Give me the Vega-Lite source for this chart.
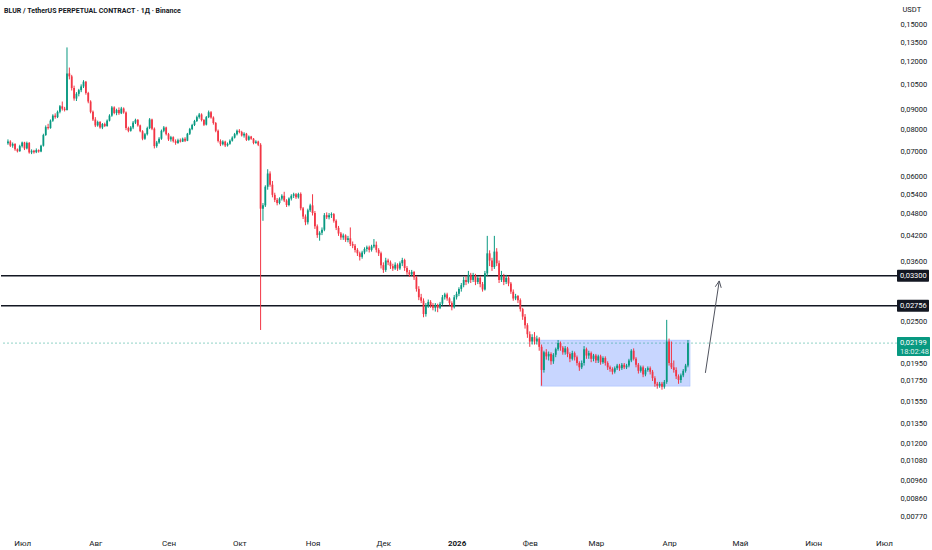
{
  "$schema": "https://vega.github.io/schema/vega-lite/v6.json",
  "width": 932,
  "height": 550,
  "autosize": {"type": "fit", "contains": "padding"},
  "padding": 0,
  "background": "white",
  "title": {
    "text": "BLUR / TetherUS PERPETUAL CONTRACT · 1Д · Binance",
    "anchor": "start",
    "frame": "group",
    "offset": -19,
    "baseline": "bottom",
    "dx": 3,
    "dy": 2,
    "font": "Roboto",
    "fontSize": 7,
    "fontWeight": "bold",
    "color": "#131722"
  },
  "config": {
    "view": {"stroke": null},
    "axis": {
      "domain": false,
      "ticks": false,
      "grid": false,
      "labelFont": "Roboto",
      "labelFontSize": 8,
      "labelColor": "#131722",
      "titleFont": "Roboto"
    }
  },
  "datasets": {
    "candles": [
      {"d":"2025-06-25","o":0.0735,"h":0.0752,"l":0.0728,"c":0.0742},
      {"d":"2025-06-26","o":0.0742,"h":0.0748,"l":0.0718,"c":0.0724},
      {"d":"2025-06-27","o":0.0724,"h":0.0738,"l":0.0715,"c":0.0731},
      {"d":"2025-06-28","o":0.0731,"h":0.0735,"l":0.0702,"c":0.0708},
      {"d":"2025-06-29","o":0.0708,"h":0.0712,"l":0.0695,"c":0.0700},
      {"d":"2025-06-30","o":0.0700,"h":0.0728,"l":0.0698,"c":0.0722},
      {"d":"2025-07-01","o":0.0722,"h":0.0742,"l":0.0716,"c":0.0738},
      {"d":"2025-07-02","o":0.0738,"h":0.0741,"l":0.0705,"c":0.0712},
      {"d":"2025-07-03","o":0.0712,"h":0.0742,"l":0.0708,"c":0.0736},
      {"d":"2025-07-04","o":0.0736,"h":0.0740,"l":0.0690,"c":0.0695},
      {"d":"2025-07-05","o":0.0695,"h":0.0708,"l":0.0688,"c":0.0702},
      {"d":"2025-07-06","o":0.0702,"h":0.0706,"l":0.0690,"c":0.0696},
      {"d":"2025-07-07","o":0.0696,"h":0.0712,"l":0.0692,"c":0.0705},
      {"d":"2025-07-08","o":0.0705,"h":0.0708,"l":0.0694,"c":0.0699},
      {"d":"2025-07-09","o":0.0699,"h":0.0728,"l":0.0696,"c":0.0724},
      {"d":"2025-07-10","o":0.0724,"h":0.0778,"l":0.0720,"c":0.0772},
      {"d":"2025-07-11","o":0.0772,"h":0.0818,"l":0.0768,"c":0.0810},
      {"d":"2025-07-12","o":0.0810,"h":0.0826,"l":0.0798,"c":0.0805},
      {"d":"2025-07-13","o":0.0805,"h":0.0848,"l":0.0802,"c":0.0842},
      {"d":"2025-07-14","o":0.0842,"h":0.0875,"l":0.0836,"c":0.0868},
      {"d":"2025-07-15","o":0.0868,"h":0.0880,"l":0.0852,"c":0.0860},
      {"d":"2025-07-16","o":0.0860,"h":0.0895,"l":0.0855,"c":0.0888},
      {"d":"2025-07-17","o":0.0888,"h":0.0925,"l":0.0880,"c":0.0918},
      {"d":"2025-07-18","o":0.0918,"h":0.0945,"l":0.0895,"c":0.0905},
      {"d":"2025-07-19","o":0.0905,"h":0.0915,"l":0.0890,"c":0.0898},
      {"d":"2025-07-20","o":0.0898,"h":0.1310,"l":0.0895,"c":0.1120},
      {"d":"2025-07-21","o":0.1120,"h":0.1160,"l":0.1080,"c":0.1100},
      {"d":"2025-07-22","o":0.1100,"h":0.1110,"l":0.1010,"c":0.1025},
      {"d":"2025-07-23","o":0.1025,"h":0.1040,"l":0.0950,"c":0.0962},
      {"d":"2025-07-24","o":0.0962,"h":0.1000,"l":0.0948,"c":0.0990},
      {"d":"2025-07-25","o":0.0990,"h":0.1020,"l":0.0975,"c":0.1012},
      {"d":"2025-07-26","o":0.1012,"h":0.1048,"l":0.1000,"c":0.1035},
      {"d":"2025-07-27","o":0.1035,"h":0.1075,"l":0.1025,"c":0.1065},
      {"d":"2025-07-28","o":0.1065,"h":0.1070,"l":0.0985,"c":0.0995},
      {"d":"2025-07-29","o":0.0995,"h":0.1002,"l":0.0935,"c":0.0945},
      {"d":"2025-07-30","o":0.0945,"h":0.0952,"l":0.0880,"c":0.0888},
      {"d":"2025-07-31","o":0.0888,"h":0.0895,"l":0.0840,"c":0.0848},
      {"d":"2025-08-01","o":0.0848,"h":0.0860,"l":0.0810,"c":0.0818},
      {"d":"2025-08-02","o":0.0818,"h":0.0842,"l":0.0812,"c":0.0835},
      {"d":"2025-08-03","o":0.0835,"h":0.0840,"l":0.0802,"c":0.0808},
      {"d":"2025-08-04","o":0.0808,"h":0.0830,"l":0.0800,"c":0.0825},
      {"d":"2025-08-05","o":0.0825,"h":0.0832,"l":0.0810,"c":0.0815},
      {"d":"2025-08-06","o":0.0815,"h":0.0848,"l":0.0812,"c":0.0842},
      {"d":"2025-08-07","o":0.0842,"h":0.0875,"l":0.0838,"c":0.0868},
      {"d":"2025-08-08","o":0.0868,"h":0.0920,"l":0.0862,"c":0.0912},
      {"d":"2025-08-09","o":0.0912,"h":0.0918,"l":0.0875,"c":0.0882},
      {"d":"2025-08-10","o":0.0882,"h":0.0905,"l":0.0870,"c":0.0898},
      {"d":"2025-08-11","o":0.0898,"h":0.0912,"l":0.0872,"c":0.0880},
      {"d":"2025-08-12","o":0.0880,"h":0.0915,"l":0.0876,"c":0.0906},
      {"d":"2025-08-13","o":0.0906,"h":0.0912,"l":0.0878,"c":0.0885},
      {"d":"2025-08-14","o":0.0885,"h":0.0890,"l":0.0795,"c":0.0805},
      {"d":"2025-08-15","o":0.0805,"h":0.0812,"l":0.0785,"c":0.0792},
      {"d":"2025-08-16","o":0.0792,"h":0.0815,"l":0.0788,"c":0.0808},
      {"d":"2025-08-17","o":0.0808,"h":0.0840,"l":0.0800,"c":0.0832},
      {"d":"2025-08-18","o":0.0832,"h":0.0852,"l":0.0825,"c":0.0846},
      {"d":"2025-08-19","o":0.0846,"h":0.0850,"l":0.0812,"c":0.0818},
      {"d":"2025-08-20","o":0.0818,"h":0.0822,"l":0.0785,"c":0.0790},
      {"d":"2025-08-21","o":0.0790,"h":0.0795,"l":0.0748,"c":0.0755},
      {"d":"2025-08-22","o":0.0755,"h":0.0782,"l":0.0750,"c":0.0776},
      {"d":"2025-08-23","o":0.0776,"h":0.0812,"l":0.0770,"c":0.0805},
      {"d":"2025-08-24","o":0.0805,"h":0.0855,"l":0.0800,"c":0.0848},
      {"d":"2025-08-25","o":0.0848,"h":0.0852,"l":0.0795,"c":0.0802},
      {"d":"2025-08-26","o":0.0802,"h":0.0808,"l":0.0712,"c":0.0722},
      {"d":"2025-08-27","o":0.0722,"h":0.0745,"l":0.0715,"c":0.0738},
      {"d":"2025-08-28","o":0.0738,"h":0.0762,"l":0.0732,"c":0.0755},
      {"d":"2025-08-29","o":0.0755,"h":0.0798,"l":0.0750,"c":0.0792},
      {"d":"2025-08-30","o":0.0792,"h":0.0815,"l":0.0785,"c":0.0808},
      {"d":"2025-08-31","o":0.0808,"h":0.0812,"l":0.0770,"c":0.0776},
      {"d":"2025-09-01","o":0.0776,"h":0.0782,"l":0.0745,"c":0.0752},
      {"d":"2025-09-02","o":0.0752,"h":0.0768,"l":0.0742,"c":0.0762},
      {"d":"2025-09-03","o":0.0762,"h":0.0766,"l":0.0738,"c":0.0744},
      {"d":"2025-09-04","o":0.0744,"h":0.0752,"l":0.0728,"c":0.0736},
      {"d":"2025-09-05","o":0.0736,"h":0.0755,"l":0.0732,"c":0.0748},
      {"d":"2025-09-06","o":0.0748,"h":0.0756,"l":0.0738,"c":0.0742},
      {"d":"2025-09-07","o":0.0742,"h":0.0760,"l":0.0740,"c":0.0755},
      {"d":"2025-09-08","o":0.0755,"h":0.0762,"l":0.0740,"c":0.0746},
      {"d":"2025-09-09","o":0.0746,"h":0.0782,"l":0.0744,"c":0.0778},
      {"d":"2025-09-10","o":0.0778,"h":0.0806,"l":0.0772,"c":0.0800},
      {"d":"2025-09-11","o":0.0800,"h":0.0826,"l":0.0795,"c":0.0820},
      {"d":"2025-09-12","o":0.0820,"h":0.0846,"l":0.0815,"c":0.0840},
      {"d":"2025-09-13","o":0.0840,"h":0.0868,"l":0.0835,"c":0.0860},
      {"d":"2025-09-14","o":0.0860,"h":0.0882,"l":0.0852,"c":0.0874},
      {"d":"2025-09-15","o":0.0874,"h":0.0880,"l":0.0838,"c":0.0845},
      {"d":"2025-09-16","o":0.0845,"h":0.0850,"l":0.0815,"c":0.0822},
      {"d":"2025-09-17","o":0.0822,"h":0.0866,"l":0.0818,"c":0.0860},
      {"d":"2025-09-18","o":0.0860,"h":0.0895,"l":0.0855,"c":0.0886},
      {"d":"2025-09-19","o":0.0886,"h":0.0892,"l":0.0852,"c":0.0858},
      {"d":"2025-09-20","o":0.0858,"h":0.0864,"l":0.0822,"c":0.0830},
      {"d":"2025-09-21","o":0.0830,"h":0.0835,"l":0.0785,"c":0.0792},
      {"d":"2025-09-22","o":0.0792,"h":0.0798,"l":0.0738,"c":0.0745},
      {"d":"2025-09-23","o":0.0745,"h":0.0752,"l":0.0722,"c":0.0730},
      {"d":"2025-09-24","o":0.0730,"h":0.0748,"l":0.0725,"c":0.0742},
      {"d":"2025-09-25","o":0.0742,"h":0.0746,"l":0.0718,"c":0.0725},
      {"d":"2025-09-26","o":0.0725,"h":0.0738,"l":0.0720,"c":0.0732},
      {"d":"2025-09-27","o":0.0732,"h":0.0752,"l":0.0728,"c":0.0746},
      {"d":"2025-09-28","o":0.0746,"h":0.0766,"l":0.0742,"c":0.0760},
      {"d":"2025-09-29","o":0.0760,"h":0.0782,"l":0.0756,"c":0.0776},
      {"d":"2025-09-30","o":0.0776,"h":0.0798,"l":0.0770,"c":0.0792},
      {"d":"2025-10-01","o":0.0792,"h":0.0800,"l":0.0780,"c":0.0786},
      {"d":"2025-10-02","o":0.0786,"h":0.0792,"l":0.0765,"c":0.0770},
      {"d":"2025-10-03","o":0.0770,"h":0.0785,"l":0.0760,"c":0.0778},
      {"d":"2025-10-04","o":0.0778,"h":0.0782,"l":0.0745,"c":0.0750},
      {"d":"2025-10-05","o":0.0750,"h":0.0770,"l":0.0746,"c":0.0765},
      {"d":"2025-10-06","o":0.0765,"h":0.0768,"l":0.0750,"c":0.0755},
      {"d":"2025-10-07","o":0.0755,"h":0.0758,"l":0.0730,"c":0.0736},
      {"d":"2025-10-08","o":0.0736,"h":0.0748,"l":0.0732,"c":0.0742},
      {"d":"2025-10-09","o":0.0742,"h":0.0746,"l":0.0722,"c":0.0728},
      {"d":"2025-10-10","o":0.0728,"h":0.0735,"l":0.0238,"c":0.0495},
      {"d":"2025-10-11","o":0.0495,"h":0.0512,"l":0.0460,"c":0.0505},
      {"d":"2025-10-12","o":0.0505,"h":0.0570,"l":0.0500,"c":0.0565},
      {"d":"2025-10-13","o":0.0565,"h":0.0628,"l":0.0555,"c":0.0612},
      {"d":"2025-10-14","o":0.0612,"h":0.0620,"l":0.0565,"c":0.0572},
      {"d":"2025-10-15","o":0.0572,"h":0.0585,"l":0.0530,"c":0.0538},
      {"d":"2025-10-16","o":0.0538,"h":0.0545,"l":0.0515,"c":0.0522},
      {"d":"2025-10-17","o":0.0522,"h":0.0528,"l":0.0505,"c":0.0512},
      {"d":"2025-10-18","o":0.0512,"h":0.0530,"l":0.0508,"c":0.0526},
      {"d":"2025-10-19","o":0.0526,"h":0.0540,"l":0.0520,"c":0.0535},
      {"d":"2025-10-20","o":0.0535,"h":0.0548,"l":0.0515,"c":0.0520},
      {"d":"2025-10-21","o":0.0520,"h":0.0524,"l":0.0500,"c":0.0506},
      {"d":"2025-10-22","o":0.0506,"h":0.0530,"l":0.0502,"c":0.0526},
      {"d":"2025-10-23","o":0.0526,"h":0.0540,"l":0.0520,"c":0.0535},
      {"d":"2025-10-24","o":0.0535,"h":0.0545,"l":0.0528,"c":0.0540},
      {"d":"2025-10-25","o":0.0540,"h":0.0544,"l":0.0525,"c":0.0530},
      {"d":"2025-10-26","o":0.0530,"h":0.0545,"l":0.0526,"c":0.0541},
      {"d":"2025-10-27","o":0.0541,"h":0.0546,"l":0.0490,"c":0.0496},
      {"d":"2025-10-28","o":0.0496,"h":0.0500,"l":0.0465,"c":0.0472},
      {"d":"2025-10-29","o":0.0472,"h":0.0478,"l":0.0448,"c":0.0456},
      {"d":"2025-10-30","o":0.0456,"h":0.0495,"l":0.0450,"c":0.0490},
      {"d":"2025-10-31","o":0.0490,"h":0.0510,"l":0.0485,"c":0.0505},
      {"d":"2025-11-01","o":0.0505,"h":0.0540,"l":0.0475,"c":0.0482},
      {"d":"2025-11-02","o":0.0482,"h":0.0488,"l":0.0438,"c":0.0445},
      {"d":"2025-11-03","o":0.0445,"h":0.0450,"l":0.0415,"c":0.0422},
      {"d":"2025-11-04","o":0.0422,"h":0.0432,"l":0.0408,"c":0.0428},
      {"d":"2025-11-05","o":0.0428,"h":0.0442,"l":0.0422,"c":0.0436},
      {"d":"2025-11-06","o":0.0436,"h":0.0482,"l":0.0432,"c":0.0476},
      {"d":"2025-11-07","o":0.0476,"h":0.0484,"l":0.0465,"c":0.0470},
      {"d":"2025-11-08","o":0.0470,"h":0.0482,"l":0.0464,"c":0.0476},
      {"d":"2025-11-09","o":0.0476,"h":0.0484,"l":0.0468,"c":0.0479},
      {"d":"2025-11-10","o":0.0479,"h":0.0482,"l":0.0455,"c":0.0460},
      {"d":"2025-11-11","o":0.0460,"h":0.0464,"l":0.0435,"c":0.0441},
      {"d":"2025-11-12","o":0.0441,"h":0.0446,"l":0.0420,"c":0.0426},
      {"d":"2025-11-13","o":0.0426,"h":0.0430,"l":0.0410,"c":0.0416},
      {"d":"2025-11-14","o":0.0416,"h":0.0426,"l":0.0410,"c":0.0421},
      {"d":"2025-11-15","o":0.0421,"h":0.0424,"l":0.0405,"c":0.0410},
      {"d":"2025-11-16","o":0.0410,"h":0.0420,"l":0.0404,"c":0.0414},
      {"d":"2025-11-17","o":0.0414,"h":0.0442,"l":0.0395,"c":0.0400},
      {"d":"2025-11-18","o":0.0400,"h":0.0406,"l":0.0390,"c":0.0396},
      {"d":"2025-11-19","o":0.0396,"h":0.0400,"l":0.0380,"c":0.0386},
      {"d":"2025-11-20","o":0.0386,"h":0.0390,"l":0.0372,"c":0.0378},
      {"d":"2025-11-21","o":0.0378,"h":0.0382,"l":0.0362,"c":0.0370},
      {"d":"2025-11-22","o":0.0370,"h":0.0384,"l":0.0366,"c":0.0380},
      {"d":"2025-11-23","o":0.0380,"h":0.0392,"l":0.0376,"c":0.0388},
      {"d":"2025-11-24","o":0.0388,"h":0.0396,"l":0.0382,"c":0.0392},
      {"d":"2025-11-25","o":0.0392,"h":0.0396,"l":0.0380,"c":0.0386},
      {"d":"2025-11-26","o":0.0386,"h":0.0398,"l":0.0382,"c":0.0394},
      {"d":"2025-11-27","o":0.0394,"h":0.0412,"l":0.0390,"c":0.0398},
      {"d":"2025-11-28","o":0.0398,"h":0.0406,"l":0.0380,"c":0.0386},
      {"d":"2025-11-29","o":0.0386,"h":0.0390,"l":0.0372,"c":0.0378},
      {"d":"2025-11-30","o":0.0378,"h":0.0382,"l":0.0345,"c":0.0352},
      {"d":"2025-12-01","o":0.0352,"h":0.0358,"l":0.0336,"c":0.0342},
      {"d":"2025-12-02","o":0.0342,"h":0.0368,"l":0.0338,"c":0.0362},
      {"d":"2025-12-03","o":0.0362,"h":0.0366,"l":0.0352,"c":0.0358},
      {"d":"2025-12-04","o":0.0358,"h":0.0362,"l":0.0344,"c":0.0350},
      {"d":"2025-12-05","o":0.0350,"h":0.0355,"l":0.0340,"c":0.0345},
      {"d":"2025-12-06","o":0.0345,"h":0.0358,"l":0.0342,"c":0.0353},
      {"d":"2025-12-07","o":0.0353,"h":0.0356,"l":0.0340,"c":0.0345},
      {"d":"2025-12-08","o":0.0345,"h":0.0360,"l":0.0342,"c":0.0356},
      {"d":"2025-12-09","o":0.0356,"h":0.0368,"l":0.0350,"c":0.0363},
      {"d":"2025-12-10","o":0.0363,"h":0.0366,"l":0.0340,"c":0.0346},
      {"d":"2025-12-11","o":0.0346,"h":0.0350,"l":0.0332,"c":0.0337},
      {"d":"2025-12-12","o":0.0337,"h":0.0342,"l":0.0328,"c":0.0333},
      {"d":"2025-12-13","o":0.0333,"h":0.0342,"l":0.0330,"c":0.0338},
      {"d":"2025-12-14","o":0.0338,"h":0.0340,"l":0.0322,"c":0.0327},
      {"d":"2025-12-15","o":0.0327,"h":0.0330,"l":0.0300,"c":0.0305},
      {"d":"2025-12-16","o":0.0305,"h":0.0310,"l":0.0285,"c":0.0290},
      {"d":"2025-12-17","o":0.0290,"h":0.0296,"l":0.0280,"c":0.0284},
      {"d":"2025-12-18","o":0.0284,"h":0.0288,"l":0.0257,"c":0.0262},
      {"d":"2025-12-19","o":0.0262,"h":0.0280,"l":0.0258,"c":0.0276},
      {"d":"2025-12-20","o":0.0276,"h":0.0286,"l":0.0272,"c":0.0282},
      {"d":"2025-12-21","o":0.0282,"h":0.0285,"l":0.0272,"c":0.0276},
      {"d":"2025-12-22","o":0.0276,"h":0.0280,"l":0.0268,"c":0.0272},
      {"d":"2025-12-23","o":0.0272,"h":0.0280,"l":0.0266,"c":0.0277},
      {"d":"2025-12-24","o":0.0277,"h":0.0279,"l":0.0265,"c":0.0272},
      {"d":"2025-12-25","o":0.0272,"h":0.0282,"l":0.0270,"c":0.0279},
      {"d":"2025-12-26","o":0.0279,"h":0.0294,"l":0.0276,"c":0.0290},
      {"d":"2025-12-27","o":0.0290,"h":0.0298,"l":0.0286,"c":0.0295},
      {"d":"2025-12-28","o":0.0295,"h":0.0298,"l":0.0284,"c":0.0288},
      {"d":"2025-12-29","o":0.0288,"h":0.0290,"l":0.0276,"c":0.0280},
      {"d":"2025-12-30","o":0.0280,"h":0.0283,"l":0.0268,"c":0.0273},
      {"d":"2025-12-31","o":0.0273,"h":0.0294,"l":0.0271,"c":0.0290},
      {"d":"2026-01-01","o":0.0290,"h":0.0300,"l":0.0286,"c":0.0296},
      {"d":"2026-01-02","o":0.0296,"h":0.0308,"l":0.0292,"c":0.0305},
      {"d":"2026-01-03","o":0.0305,"h":0.0316,"l":0.0300,"c":0.0312},
      {"d":"2026-01-04","o":0.0312,"h":0.0328,"l":0.0308,"c":0.0322},
      {"d":"2026-01-05","o":0.0322,"h":0.0330,"l":0.0312,"c":0.0318},
      {"d":"2026-01-06","o":0.0318,"h":0.0340,"l":0.0315,"c":0.0332},
      {"d":"2026-01-07","o":0.0332,"h":0.0336,"l":0.0316,"c":0.0322},
      {"d":"2026-01-08","o":0.0322,"h":0.0336,"l":0.0318,"c":0.0330},
      {"d":"2026-01-09","o":0.0330,"h":0.0334,"l":0.0312,"c":0.0318},
      {"d":"2026-01-10","o":0.0318,"h":0.0330,"l":0.0314,"c":0.0326},
      {"d":"2026-01-11","o":0.0326,"h":0.0330,"l":0.0308,"c":0.0314},
      {"d":"2026-01-12","o":0.0314,"h":0.0318,"l":0.0300,"c":0.0304},
      {"d":"2026-01-13","o":0.0304,"h":0.0340,"l":0.0302,"c":0.0335},
      {"d":"2026-01-14","o":0.0335,"h":0.0420,"l":0.0330,"c":0.0378},
      {"d":"2026-01-15","o":0.0378,"h":0.0385,"l":0.0350,"c":0.0362},
      {"d":"2026-01-16","o":0.0362,"h":0.0368,"l":0.0340,"c":0.0348},
      {"d":"2026-01-17","o":0.0348,"h":0.0420,"l":0.0344,"c":0.0382},
      {"d":"2026-01-18","o":0.0382,"h":0.0390,"l":0.0350,"c":0.0356},
      {"d":"2026-01-19","o":0.0356,"h":0.0362,"l":0.0316,"c":0.0322},
      {"d":"2026-01-20","o":0.0322,"h":0.0340,"l":0.0318,"c":0.0330},
      {"d":"2026-01-21","o":0.0330,"h":0.0334,"l":0.0312,"c":0.0318},
      {"d":"2026-01-22","o":0.0318,"h":0.0332,"l":0.0314,"c":0.0326},
      {"d":"2026-01-23","o":0.0326,"h":0.0330,"l":0.0310,"c":0.0315},
      {"d":"2026-01-24","o":0.0315,"h":0.0318,"l":0.0296,"c":0.0300},
      {"d":"2026-01-25","o":0.0300,"h":0.0304,"l":0.0284,"c":0.0288},
      {"d":"2026-01-26","o":0.0288,"h":0.0296,"l":0.0285,"c":0.0292},
      {"d":"2026-01-27","o":0.0292,"h":0.0294,"l":0.0280,"c":0.0285},
      {"d":"2026-01-28","o":0.0285,"h":0.0288,"l":0.0266,"c":0.0270},
      {"d":"2026-01-29","o":0.0270,"h":0.0272,"l":0.0253,"c":0.0258},
      {"d":"2026-01-30","o":0.0258,"h":0.0262,"l":0.0240,"c":0.0245},
      {"d":"2026-01-31","o":0.0245,"h":0.0248,"l":0.0227,"c":0.0232},
      {"d":"2026-02-01","o":0.0232,"h":0.0236,"l":0.0215,"c":0.0222},
      {"d":"2026-02-02","o":0.0222,"h":0.0232,"l":0.0218,"c":0.0228},
      {"d":"2026-02-03","o":0.0228,"h":0.0235,"l":0.0218,"c":0.0222},
      {"d":"2026-02-04","o":0.0222,"h":0.0230,"l":0.0218,"c":0.0226},
      {"d":"2026-02-05","o":0.0226,"h":0.0228,"l":0.0210,"c":0.0215},
      {"d":"2026-02-06","o":0.0215,"h":0.0218,"l":0.0170,"c":0.0187},
      {"d":"2026-02-07","o":0.0187,"h":0.0210,"l":0.0184,"c":0.0208},
      {"d":"2026-02-08","o":0.0208,"h":0.0212,"l":0.0199,"c":0.0203},
      {"d":"2026-02-09","o":0.0203,"h":0.0209,"l":0.0198,"c":0.0206},
      {"d":"2026-02-10","o":0.0206,"h":0.0208,"l":0.0193,"c":0.0197},
      {"d":"2026-02-11","o":0.0197,"h":0.0207,"l":0.0194,"c":0.0205},
      {"d":"2026-02-12","o":0.0205,"h":0.0214,"l":0.0202,"c":0.0212},
      {"d":"2026-02-13","o":0.0212,"h":0.0224,"l":0.0210,"c":0.0220},
      {"d":"2026-02-14","o":0.0220,"h":0.0222,"l":0.0210,"c":0.0214},
      {"d":"2026-02-15","o":0.0214,"h":0.0216,"l":0.0205,"c":0.0208},
      {"d":"2026-02-16","o":0.0208,"h":0.0216,"l":0.0205,"c":0.0213},
      {"d":"2026-02-17","o":0.0213,"h":0.0215,"l":0.0202,"c":0.0206},
      {"d":"2026-02-18","o":0.0206,"h":0.0208,"l":0.0196,"c":0.0200},
      {"d":"2026-02-19","o":0.0200,"h":0.0210,"l":0.0198,"c":0.0207},
      {"d":"2026-02-20","o":0.0207,"h":0.0209,"l":0.0198,"c":0.0202},
      {"d":"2026-02-21","o":0.0202,"h":0.0204,"l":0.0192,"c":0.0195},
      {"d":"2026-02-22","o":0.0195,"h":0.0197,"l":0.0186,"c":0.0190},
      {"d":"2026-02-23","o":0.0190,"h":0.0198,"l":0.0188,"c":0.0195},
      {"d":"2026-02-24","o":0.0195,"h":0.0216,"l":0.0192,"c":0.0212},
      {"d":"2026-02-25","o":0.0212,"h":0.0214,"l":0.0200,"c":0.0204},
      {"d":"2026-02-26","o":0.0204,"h":0.0210,"l":0.0200,"c":0.0207},
      {"d":"2026-02-27","o":0.0207,"h":0.0209,"l":0.0196,"c":0.0200},
      {"d":"2026-02-28","o":0.0200,"h":0.0206,"l":0.0197,"c":0.0204},
      {"d":"2026-03-01","o":0.0204,"h":0.0206,"l":0.0195,"c":0.0198},
      {"d":"2026-03-02","o":0.0198,"h":0.0205,"l":0.0195,"c":0.0203},
      {"d":"2026-03-03","o":0.0203,"h":0.0205,"l":0.0193,"c":0.0196},
      {"d":"2026-03-04","o":0.0196,"h":0.0203,"l":0.0194,"c":0.0201},
      {"d":"2026-03-05","o":0.0201,"h":0.0203,"l":0.0192,"c":0.0195},
      {"d":"2026-03-06","o":0.0195,"h":0.0197,"l":0.0187,"c":0.0190},
      {"d":"2026-03-07","o":0.0190,"h":0.0192,"l":0.0185,"c":0.0188},
      {"d":"2026-03-08","o":0.0188,"h":0.0190,"l":0.0182,"c":0.0185},
      {"d":"2026-03-09","o":0.0185,"h":0.0191,"l":0.0183,"c":0.0189},
      {"d":"2026-03-10","o":0.0189,"h":0.0194,"l":0.0187,"c":0.0192},
      {"d":"2026-03-11","o":0.0192,"h":0.0194,"l":0.0186,"c":0.0189},
      {"d":"2026-03-12","o":0.0189,"h":0.0195,"l":0.0187,"c":0.0193},
      {"d":"2026-03-13","o":0.0193,"h":0.0195,"l":0.0188,"c":0.0190},
      {"d":"2026-03-14","o":0.0190,"h":0.0194,"l":0.0188,"c":0.0192},
      {"d":"2026-03-15","o":0.0192,"h":0.0200,"l":0.0190,"c":0.0198},
      {"d":"2026-03-16","o":0.0198,"h":0.0212,"l":0.0196,"c":0.0210},
      {"d":"2026-03-17","o":0.0210,"h":0.0213,"l":0.0198,"c":0.0200},
      {"d":"2026-03-18","o":0.0200,"h":0.0202,"l":0.0190,"c":0.0193},
      {"d":"2026-03-19","o":0.0193,"h":0.0195,"l":0.0183,"c":0.0186},
      {"d":"2026-03-20","o":0.0186,"h":0.0192,"l":0.0184,"c":0.0190},
      {"d":"2026-03-21","o":0.0190,"h":0.0192,"l":0.0179,"c":0.0182},
      {"d":"2026-03-22","o":0.0182,"h":0.0189,"l":0.0180,"c":0.0187},
      {"d":"2026-03-23","o":0.0187,"h":0.0191,"l":0.0185,"c":0.0189},
      {"d":"2026-03-24","o":0.0189,"h":0.0191,"l":0.0182,"c":0.0185},
      {"d":"2026-03-25","o":0.0185,"h":0.0187,"l":0.0175,"c":0.0178},
      {"d":"2026-03-26","o":0.0178,"h":0.0180,"l":0.0169,"c":0.0172},
      {"d":"2026-03-27","o":0.0172,"h":0.0174,"l":0.0167,"c":0.0170},
      {"d":"2026-03-28","o":0.0170,"h":0.0174,"l":0.0168,"c":0.0172},
      {"d":"2026-03-29","o":0.0172,"h":0.0174,"l":0.0166,"c":0.0169},
      {"d":"2026-03-30","o":0.0169,"h":0.0176,"l":0.0167,"c":0.0174},
      {"d":"2026-03-31","o":0.0174,"h":0.0253,"l":0.0172,"c":0.0222},
      {"d":"2026-04-01","o":0.0222,"h":0.0226,"l":0.0192,"c":0.0195},
      {"d":"2026-04-02","o":0.0195,"h":0.0222,"l":0.0188,"c":0.0190},
      {"d":"2026-04-03","o":0.0190,"h":0.0198,"l":0.0184,"c":0.0187},
      {"d":"2026-04-04","o":0.0187,"h":0.0190,"l":0.0177,"c":0.0180},
      {"d":"2026-04-05","o":0.0180,"h":0.0182,"l":0.0172,"c":0.0176},
      {"d":"2026-04-06","o":0.0176,"h":0.0183,"l":0.0173,"c":0.0181},
      {"d":"2026-04-07","o":0.0181,"h":0.0188,"l":0.0179,"c":0.0186},
      {"d":"2026-04-08","o":0.0186,"h":0.0194,"l":0.0184,"c":0.0192},
      {"d":"2026-04-09","o":0.0192,"h":0.0224,"l":0.0190,"c":0.02199}
    ],
    "zone": [
      {"start": "2026-02-05T15:00:00Z", "end": "2026-04-09T22:00:00Z", "lo": 0.01695, "hi": 0.0224}
    ],
    "levels": [
      {"p": 0.033, "lbl": "0,03300"},
      {"p": 0.02756, "lbl": "0,02756"}
    ],
    "last": [
      {"p": 0.02199, "lbl": "0,02199", "timer": "18:02:48"}
    ],
    "arrow": [
      {"t": "2026-04-16T09:00:00Z", "p": 0.01837},
      {"t": "2026-04-22T06:00:00Z", "p": 0.0320}
    ],
    "arrowhead": [
      {"t": "2026-04-20T14:00:00Z", "p": 0.0309},
      {"t": "2026-04-22T06:00:00Z", "p": 0.0320},
      {"t": "2026-04-23T02:00:00Z", "p": 0.0307}
    ]
  },
  "layer": [
    {
      "data": {"name": "zone"},
      "mark": {"type": "rect", "fill": "#2962ff", "fillOpacity": 0.26, "stroke": "#2962ff", "strokeOpacity": 0.15, "strokeWidth": 1},
      "encoding": {
        "x": {"field": "start", "type": "temporal"},
        "x2": {"field": "end"},
        "y": {"field": "lo", "type": "quantitative"},
        "y2": {"field": "hi"}
      }
    },
    {
      "data": {"name": "levels"},
      "mark": {"type": "rule", "color": "#131722", "strokeWidth": 1.5},
      "encoding": {
        "y": {"field": "p", "type": "quantitative"}
      }
    },
    {
      "data": {"name": "last"},
      "mark": {"type": "rule", "color": "#089981", "strokeWidth": 1, "strokeDash": [2, 2], "opacity": 0.45},
      "encoding": {
        "y": {"field": "p", "type": "quantitative"}
      }
    },
    {
      "data": {"name": "candles"},
      "mark": {"type": "rule", "strokeWidth": 1},
      "encoding": {
        "x": {
          "field": "d",
          "type": "temporal",
          "scale": {
            "type": "utc",
            "domain": [
              {"year": 2025, "month": 6, "date": 24, "hours": 4, "utc": true},
              {"year": 2026, "month": 7, "date": 4, "hours": 10, "utc": true}
            ]
          },
          "axis": {
            "title": null,
            "values": [
              {"year": 2025, "month": 7, "date": 1, "utc": true},
              {"year": 2025, "month": 8, "date": 1, "utc": true},
              {"year": 2025, "month": 9, "date": 1, "utc": true},
              {"year": 2025, "month": 10, "date": 1, "utc": true},
              {"year": 2025, "month": 11, "date": 1, "utc": true},
              {"year": 2025, "month": 12, "date": 1, "utc": true},
              {"year": 2026, "month": 1, "date": 1, "utc": true},
              {"year": 2026, "month": 2, "date": 1, "utc": true},
              {"year": 2026, "month": 3, "date": 1, "utc": true},
              {"year": 2026, "month": 4, "date": 1, "utc": true},
              {"year": 2026, "month": 5, "date": 1, "utc": true},
              {"year": 2026, "month": 6, "date": 1, "utc": true},
              {"year": 2026, "month": 7, "date": 1, "utc": true}
            ],
            "labelExpr": "utcmonth(datum.value) == 0 ? utcFormat(datum.value, '%Y') : ['Янв','Фев','Мар','Апр','Май','Июн','Июл','Авг','Сен','Окт','Ноя','Дек'][utcmonth(datum.value)]",
            "labelFontWeight": {"condition": {"test": "utcmonth(datum.value) == 0", "value": "bold"}, "value": "normal"},
            "labelPadding": 6,
            "labelOverlap": false,
            "minExtent": 17,
            "maxExtent": 17
          }
        },
        "y": {
          "field": "l",
          "type": "quantitative",
          "scale": {"type": "log", "domain": [0.00699, 0.1744], "nice": false},
          "axis": {
            "orient": "right",
            "title": "USDT",
            "titleAngle": 0,
            "titleAlign": "left",
            "titleBaseline": "middle",
            "titleX": 5,
            "titleY": 9,
            "titleFontSize": 7.5,
            "titleFontWeight": "normal",
            "titleColor": "#131722",
            "values": [0.15, 0.135, 0.12, 0.105, 0.09, 0.08, 0.07, 0.06, 0.054, 0.048, 0.042, 0.036, 0.025, 0.0195, 0.0175, 0.0155, 0.0135, 0.012, 0.0108, 0.0096, 0.0086, 0.0077],
            "labelExpr": "replace(format(datum.value, '.5f'), '.', ',')",
            "labelAlign": "left",
            "labelFontSize": 7.5,
            "labelPadding": 3,
            "labelOverlap": false,
            "minExtent": 35,
            "maxExtent": 35
          }
        },
        "y2": {"field": "h"},
        "color": {"condition": {"test": "datum.c >= datum.o", "value": "#089981"}, "value": "#f23645"}
      }
    },
    {
      "data": {"name": "candles"},
      "mark": {"type": "bar", "width": 1.8},
      "encoding": {
        "x": {"field": "d", "type": "temporal"},
        "y": {"field": "o", "type": "quantitative"},
        "y2": {"field": "c"},
        "color": {"condition": {"test": "datum.c >= datum.o", "value": "#089981"}, "value": "#f23645"}
      }
    },
    {
      "data": {"name": "arrow"},
      "mark": {"type": "line", "color": "#50535e", "strokeWidth": 1},
      "encoding": {
        "x": {"field": "t", "type": "temporal"},
        "y": {"field": "p", "type": "quantitative"}
      }
    },
    {
      "data": {"name": "arrowhead"},
      "mark": {"type": "line", "color": "#50535e", "strokeWidth": 1},
      "encoding": {
        "x": {"field": "t", "type": "temporal"},
        "y": {"field": "p", "type": "quantitative"}
      }
    },
    {
      "data": {"name": "levels"},
      "mark": {"type": "rect", "fill": "#131722", "xOffset": 0, "x2Offset": 32, "yOffset": -6, "y2Offset": 6, "cornerRadius": 1},
      "encoding": {
        "x": {"value": "width"},
        "x2": {"value": "width"},
        "y": {"field": "p", "type": "quantitative"},
        "y2": {"field": "p"}
      }
    },
    {
      "data": {"name": "levels"},
      "mark": {"type": "text", "color": "white", "font": "Roboto", "fontSize": 7.5, "align": "left", "baseline": "middle", "dx": 3},
      "encoding": {
        "x": {"value": "width"},
        "y": {"field": "p", "type": "quantitative"},
        "text": {"field": "lbl"}
      }
    },
    {
      "data": {"name": "last"},
      "mark": {"type": "rect", "fill": "#089981", "xOffset": 0, "x2Offset": 33, "yOffset": -6, "y2Offset": 13, "cornerRadius": 1},
      "encoding": {
        "x": {"value": "width"},
        "x2": {"value": "width"},
        "y": {"field": "p", "type": "quantitative"},
        "y2": {"field": "p"}
      }
    },
    {
      "data": {"name": "last"},
      "mark": {"type": "text", "color": "white", "font": "Roboto", "fontSize": 7.5, "align": "left", "baseline": "middle", "dx": 3},
      "encoding": {
        "x": {"value": "width"},
        "y": {"field": "p", "type": "quantitative"},
        "text": {"field": "lbl"}
      }
    },
    {
      "data": {"name": "last"},
      "mark": {"type": "text", "color": "white", "font": "Roboto", "fontSize": 7.5, "align": "left", "baseline": "middle", "dx": 3, "dy": 9, "opacity": 0.85},
      "encoding": {
        "x": {"value": "width"},
        "y": {"field": "p", "type": "quantitative"},
        "text": {"field": "timer"}
      }
    }
  ]
}
